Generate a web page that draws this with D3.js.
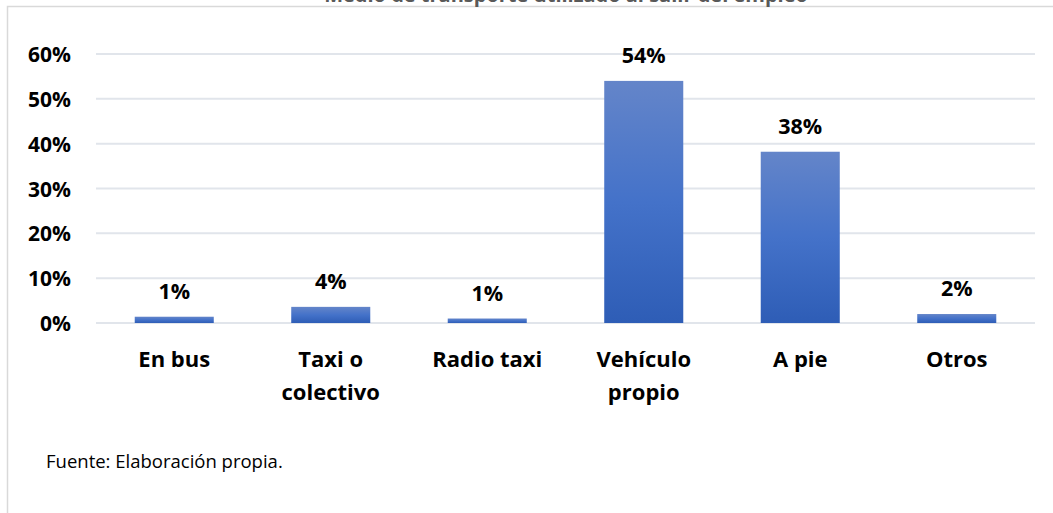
<!DOCTYPE html>
<html>
<head>
<meta charset="utf-8">
<script src="https://cdn.jsdelivr.net/npm/d3@7"></script>
<style>
  body { margin: 0; background: #fff; }
  svg { display: block; }
</style>
</head>
<body>
<svg id="chart"></svg>
<script>
const WIDTH = 1053;
const HEIGHT = 513;

const TITLE = "Medio de transporte utilizado al salir del empleo";
const SOURCE = "Fuente: Elaboración propia.";

// categories (line breaks as in the picture)
const CATEGORIES = [
    ["En bus"],
    ["Taxi o", "colectivo"],
    ["Radio taxi"],
    ["Vehículo", "propio"],
    ["A pie"],
    ["Otros"]
];
const VALUES = [0.014, 0.036, 0.010, 0.540, 0.382, 0.020];
const TICKS = [0, 0.1, 0.2, 0.3, 0.4, 0.5, 0.6];

const PLOT = { left: 96, right: 1035, top: 54, bottom: 323 };

let svg = d3.select("#chart")
    .attr("width", WIDTH)
    .attr("height", HEIGHT);

// bar gradient, like the office style
let grad = svg.append("defs").append("linearGradient")
    .attr("id", "barGrad")
    .attr("x1", 0).attr("y1", 0).attr("x2", 0).attr("y2", 1);
grad.append("stop").attr("offset", "0%").attr("stop-color", "#6485c9");
grad.append("stop").attr("offset", "50%").attr("stop-color", "#4472c9");
grad.append("stop").attr("offset", "100%").attr("stop-color", "#2e5db6");

// chart area border
svg.append("rect")
    .attr("x", 7.5)
    .attr("y", 6.5)
    .attr("width", WIDTH + 20)
    .attr("height", HEIGHT + 20)
    .attr("fill", "none")
    .attr("stroke", "#d9d9d9")
    .attr("stroke-width", 1.5);

// title (cut off at the top, as in the picture)
svg.append("text")
    .attr("x", 566)
    .attr("y", 2)
    .attr("text-anchor", "middle")
    .attr("font-family", "'Open Sans', sans-serif")
    .attr("font-weight", "bold")
    .attr("font-size", "20px")
    .attr("fill", "#595959")
    .text(TITLE);

let xScale = d3.scaleBand()
    .domain(d3.range(CATEGORIES.length))
    .range([PLOT.left, PLOT.right])
    .paddingInner(0.495)
    .paddingOuter(0.2475);

let yScale = d3.scaleLinear()
    .domain([0, 0.6])
    .range([PLOT.bottom, PLOT.top]);

// gridlines
svg.append("g")
    .selectAll("line")
    .data(TICKS)
    .enter()
    .append("line")
    .attr("x1", PLOT.left)
    .attr("x2", PLOT.right)
    .attr("y1", function (d) { return yScale(d); })
    .attr("y2", function (d) { return yScale(d); })
    .attr("stroke", "#e1e5eb")
    .attr("stroke-width", 2);

// y axis labels
let yAxis = d3.axisLeft(yScale)
    .tickValues(TICKS)
    .tickFormat(d3.format(".0%"))
    .tickSize(0)
    .tickPadding(0);

svg.append("g")
    .attr("transform", "translate(71,0)")
    .call(yAxis)
    .call(function (g) { g.select(".domain").remove(); })
    .selectAll("text")
    .attr("font-family", "'Open Sans', sans-serif")
    .attr("font-weight", "bold")
    .attr("font-size", "21px")
    .attr("fill", "#000")
    .attr("dy", "0.36em");

// bars
svg.append("g")
    .selectAll("rect")
    .data(VALUES)
    .enter()
    .append("rect")
    .attr("x", function (d, i) { return xScale(i); })
    .attr("y", function (d) { return yScale(d); })
    .attr("width", xScale.bandwidth())
    .attr("height", function (d) { return PLOT.bottom - yScale(d); })
    .attr("fill", "url(#barGrad)");

// value labels
svg.append("g")
    .selectAll("text")
    .data(VALUES)
    .enter()
    .append("text")
    .attr("x", function (d, i) { return xScale(i) + xScale.bandwidth() / 2; })
    .attr("y", function (d) { return yScale(d) - 18; })
    .attr("text-anchor", "middle")
    .attr("font-family", "'Open Sans', sans-serif")
    .attr("font-weight", "bold")
    .attr("font-size", "21.5px")
    .attr("fill", "#000")
    .text(function (d) { return d3.format(".0%")(d); });

// category labels
let cat = svg.append("g")
    .selectAll("text")
    .data(CATEGORIES)
    .enter()
    .append("text")
    .attr("x", function (d, i) { return xScale(i) + xScale.bandwidth() / 2; })
    .attr("y", PLOT.bottom + 44)
    .attr("text-anchor", "middle")
    .attr("font-family", "'Open Sans', sans-serif")
    .attr("font-weight", "bold")
    .attr("font-size", "22px")
    .attr("fill", "#000");

cat.selectAll("tspan")
    .data(function (d) { return d; })
    .enter()
    .append("tspan")
    .attr("x", function () { return d3.select(this.parentNode).attr("x"); })
    .attr("dy", function (d, i) { return i === 0 ? 0 : 33; })
    .text(function (d) { return d; });

// source note
svg.append("text")
    .attr("x", 46)
    .attr("y", 468)
    .attr("font-family", "'Open Sans', sans-serif")
    .attr("font-size", "18.5px")
    .attr("fill", "#000")
    .text(SOURCE);
</script>
</body>
</html>
